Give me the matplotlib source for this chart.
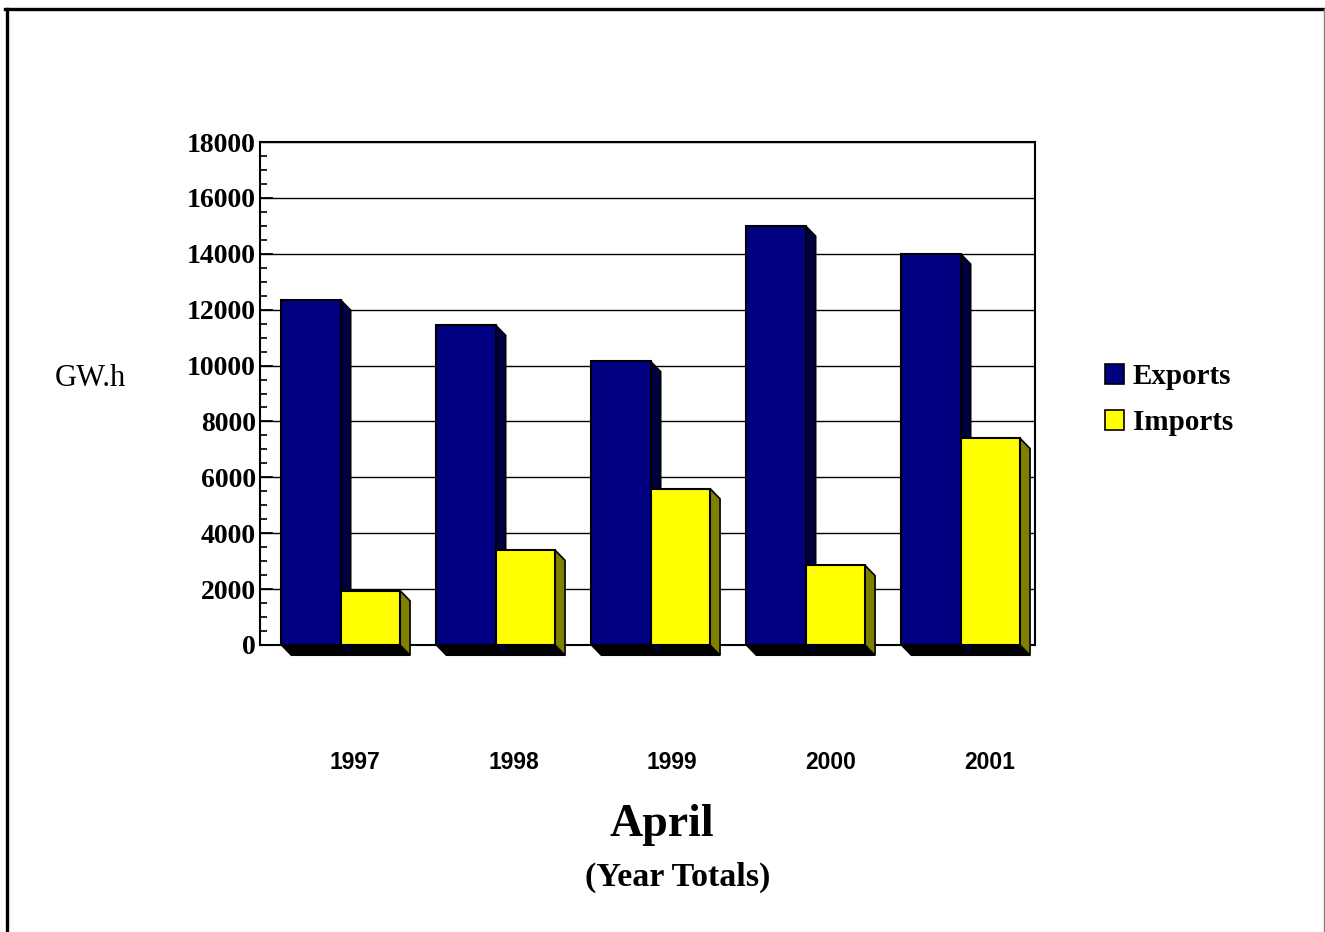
import matplotlib.pyplot as plt
from matplotlib.patches import Polygon, Patch
from matplotlib.lines import Line2D
from matplotlib import font_manager
import numpy as np

# values (GW.h)
years = ['1997', '1998', '1999', '2000', '2001']
exports = [12350, 11450, 10150, 15000, 14000]
imports = [1950, 3400, 5600, 2850, 7400]

plt.rcParams['font.family'] = 'Liberation Serif'

# narrow sans for the year labels if it is there
names = {f.name for f in font_manager.fontManager.ttflist}
if 'Liberation Sans Narrow' in names:
    year_font, year_size = 'Liberation Sans Narrow', 19
else:
    year_font, year_size = 'Liberation Sans', 16.5

fig = plt.figure(figsize=(13.25, 9.32), dpi=100)
ax = fig.add_axes([260 / 1325, 1 - 645 / 932, 775 / 1325, 503 / 932])

x = np.arange(len(years)) + 0.52
w = 0.383
dx = 0.065   # depth of the 3D side, x units
dy = 370     # depth of the 3D side, y units

front_cols = ['#000080', '#ffff00']
side_cols = ['#000040', '#808000']

for i in range(len(years)):
    left0 = x[i] - w
    # shadow below the group
    ax.add_patch(Polygon([(left0, 0), (x[i] + w, 0), (x[i] + w + dx, -dy), (left0 + dx, -dy)],
                         closed=True, fc='black', ec='black', lw=1, clip_on=False, zorder=2))
    for j, (vals, off) in enumerate([(exports, -w), (imports, 0)]):
        x0 = x[i] + off
        x1 = x0 + w
        h = vals[i]
        ax.add_patch(Polygon([(x1, h), (x1 + dx, h - dy), (x1 + dx, -dy), (x1, 0)],
                             closed=True, fc=side_cols[j], ec='black', lw=1.2,
                             clip_on=False, zorder=3 + 2 * j))

ax.bar(x - w / 2, exports, w, color=front_cols[0], edgecolor='black', lw=1.5, zorder=4)
ax.bar(x + w / 2, imports, w, color=front_cols[1], edgecolor='black', lw=1.5, zorder=6)

ax.set_xlim(0, 5)
ax.set_ylim(0, 18000)
ax.set_yticks(np.arange(0, 18001, 2000))
ax.set_yticks(np.arange(0, 18001, 500), minor=True)
ax.yaxis.grid(True, color='black', lw=1.0, zorder=0)
ax.set_axisbelow(True)
ax.tick_params(axis='y', which='major', direction='in', length=9, width=1.3, labelsize=20, pad=3)
ax.tick_params(axis='y', which='minor', direction='in', length=5, width=1.2)
for lab in ax.get_yticklabels():
    lab.set_fontweight('bold')
ax.set_xticks([])
for s in ax.spines.values():
    s.set_linewidth(1.5)

# category labels (sit a little right of the bar groups, spreading out)
for i, yr in enumerate(years):
    ax.text(x[i] + 0.09 + 0.025 * i, -0.233, yr, transform=ax.get_xaxis_transform(),
            ha='center', va='center', fontsize=year_size, fontweight='bold', family=year_font)

fig.text(90 / 1325, 1 - 378 / 932, 'GW.h', ha='center', va='center', fontsize=22)
fig.text(662 / 1325, 1 - 825 / 932, 'April', ha='center', va='center', fontsize=33, fontweight='bold')
fig.text(678 / 1325, 1 - 877 / 932, '(Year Totals)', ha='center', va='center', fontsize=24.5, fontweight='bold')

handles = [Patch(fc=front_cols[0], ec='black', lw=1.2), Patch(fc=front_cols[1], ec='black', lw=1.2)]
fig.legend(handles, ['Exports', 'Imports'], loc='upper left', bbox_to_anchor=(1082 / 1325, 1 - 340 / 932),
           frameon=False, handlelength=0.65, handleheight=0.65, handletextpad=0.3, labelspacing=0.65,
           borderpad=0.3, prop={'size': 21, 'weight': 'bold'})

# frame: thick left and top, thin grey right
fig.add_artist(Line2D([6.5 / 1325, 6.5 / 1325], [0, 1 - 8.5 / 932], transform=fig.transFigure,
                      color='black', lw=2.4))
fig.add_artist(Line2D([5 / 1325, 1324 / 1325], [1 - 8.5 / 932, 1 - 8.5 / 932], transform=fig.transFigure,
                      color='black', lw=2.4))
fig.add_artist(Line2D([1324 / 1325, 1324 / 1325], [0, 1 - 9 / 932], transform=fig.transFigure,
                      color='#808080', lw=1))

fig.savefig('out.png', dpi=100)
